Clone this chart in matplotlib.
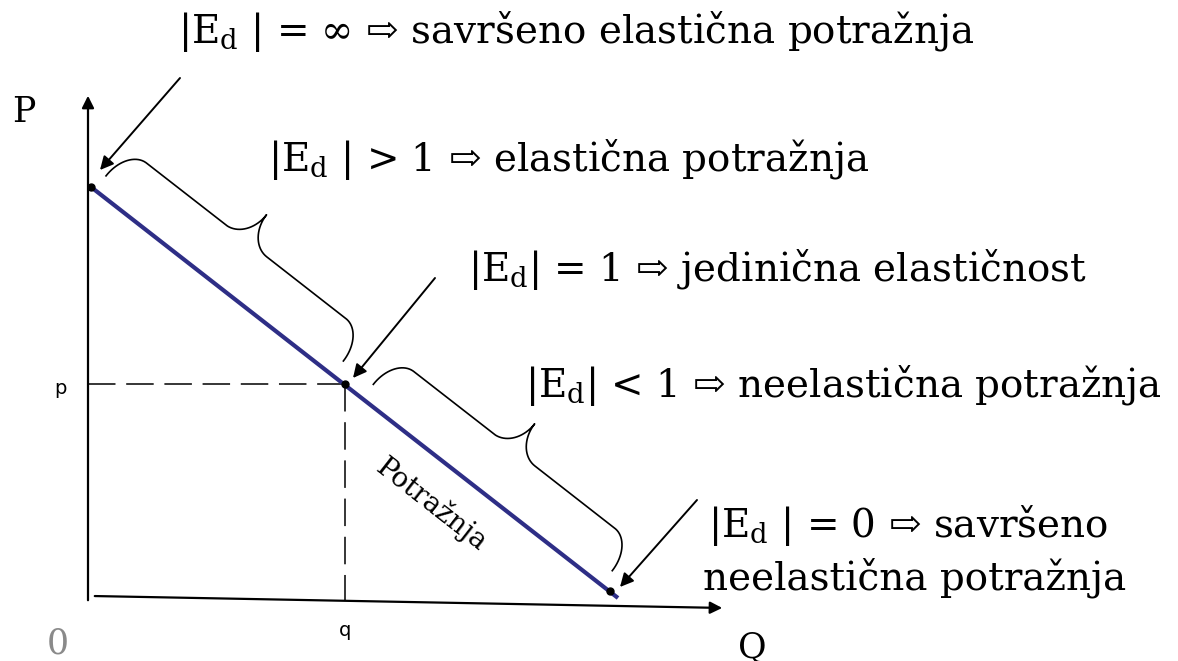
import matplotlib
matplotlib.use("Agg")
import matplotlib.pyplot as plt
import numpy as np

plt.rcParams['font.family'] = ['DejaVu Serif', 'DejaVu Sans']
plt.rcParams['mathtext.fontset'] = 'dejavuserif'

# podaci (koordinate dijagrama, ishodiste u presjeku osi)
demand_q = [3, 530]
demand_p = [413, 2]
points_q = [3, 257, 522]
points_p = [413, 216, 9]
p_level = 216
q_level = 257

labels = [
    r"|E$_\mathrm{d}$ | = ∞ ⇨ savršeno elastična potražnja",
    r"|E$_\mathrm{d}$ | > 1 ⇨ elastična potražnja",
    r"|E$_\mathrm{d}$| = 1 ⇨ jedinična elastičnost",
    r"|E$_\mathrm{d}$| < 1 ⇨ neelastična potražnja",
    r"|E$_\mathrm{d}$ | = 0 ⇨ savršeno",
    "neelastična potražnja",
]
label_x = [90, 180, 380, 437, 620, 615]
label_y = [568, 440, 330, 215, 75, 22]

arrow_from = [(92, 522), (347, 322), (609, 100)]
arrow_to = [(12, 430), (265, 222), (532, 13)]

brace_spans = [(5, 306), (344, 647)]   # udaljenost duz krivulje potraznje

fig = plt.figure(figsize=(11.78, 6.61), dpi=100)
ax = fig.add_axes([0, 0, 1, 1])
ax.set_xlim(-88, 1090)
ax.set_ylim(-61, 600)
ax.axis('off')

# osi
ax.annotate('', xy=(0, 507), xytext=(0, -3),
            arrowprops=dict(arrowstyle='-|>', lw=1.6, color='black', mutation_scale=18))
ax.annotate('', xy=(637, -8), xytext=(4, 4),
            arrowprops=dict(arrowstyle='-|>', lw=1.6, color='black', mutation_scale=18))

# isprekidane linije
ax.plot([0, q_level], [p_level, p_level], color='black', lw=1.1, ls=(0, (18, 7)))
ax.plot([q_level, q_level], [p_level, 0], color='black', lw=1.1, ls=(0, (18, 7)))

# krivulja potraznje
ax.plot(demand_q, demand_p, color='#2e2e86', lw=3.0, solid_capstyle='butt', zorder=3)
ax.plot(points_q, points_p, 'o', color='black', ms=5, zorder=4)

# viticaste zagrade
A = np.array([demand_q[0], demand_p[0]], dtype=float)
d = np.array([demand_q[1] - demand_q[0], demand_p[1] - demand_p[0]], dtype=float)
u = d / np.linalg.norm(d)
n = np.array([-u[1], u[0]])
h0, h1, h2, r, r2 = 18, 53, 86, 24, 26


def brace_half(a, m):
    th = np.linspace(0, np.pi / 2, 40)
    s1 = a + r * (1 - np.cos(th))
    y1 = h0 + (h1 - h0) * np.sin(th)
    s2 = m - r2 + r2 * np.sin(th)
    y2 = h1 + (h2 - h1) * (1 - np.cos(th))
    return np.concatenate([s1, s2]), np.concatenate([y1, y2])


for a, b in brace_spans:
    m = (a + b) / 2
    s, h = brace_half(a, m)
    s = np.concatenate([s, (a + b - s)[::-1]])
    h = np.concatenate([h, h[::-1]])
    xy = A[None, :] + s[:, None] * u[None, :] + h[:, None] * n[None, :]
    ax.plot(xy[:, 0], xy[:, 1], color='black', lw=1.2)

# strelice prema tockama
for start, end in zip(arrow_from, arrow_to):
    ax.annotate('', xy=end, xytext=start,
                arrowprops=dict(arrowstyle='-|>', lw=1.4, color='black', mutation_scale=20,
                                shrinkA=0, shrinkB=0))

for txt, x, y in zip(labels, label_x, label_y):
    ax.text(x, y, txt, fontsize=28, ha='left', va='center')

ax.text(-64, 488, 'P', fontsize=25, ha='center', va='center')
ax.text(664, -48, 'Q', fontsize=25, ha='center', va='center')
ax.text(-30, -43, '0', fontsize=25, ha='center', va='center', color='#8a8a8a')
ax.text(-28, 212, 'p', fontsize=14, ha='center', va='center', family='DejaVu Sans')
ax.text(q_level, -30, 'q', fontsize=14, ha='center', va='center', family='DejaVu Sans')

ang = np.degrees(np.arctan2(d[1], d[0]))
ax.text(344, 95, 'Potražnja', fontsize=20, rotation=ang, ha='center', va='center',
        rotation_mode='anchor')

fig.savefig('out.png', dpi=100)
